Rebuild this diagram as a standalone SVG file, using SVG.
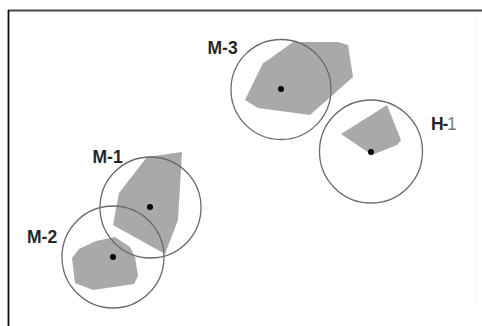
<svg xmlns="http://www.w3.org/2000/svg" width="482" height="326" viewBox="0 0 482 326">
  <style>
    .zone { fill: #a9a9a9; stroke: none; }
    .ring { fill: none; stroke: #6a6a6a; stroke-width: 1.3; }
    .dot { fill: #000; }
    .lbl { font-family: "Liberation Sans", Arial, sans-serif; font-size: 17.5px; font-weight: bold; fill: #262626; }
  </style>
  <rect x="0" y="0" width="482" height="326" fill="#fff"/>
  <g id="frame">
    <line x1="8" y1="10.5" x2="482" y2="10.5" stroke="#4a4a4a" stroke-width="2"/>
    <line x1="8.5" y1="10" x2="8.5" y2="326" stroke="#111" stroke-width="1.8"/>
    <line x1="476.5" y1="14" x2="476.5" y2="306" stroke="#f2f2f2" stroke-width="1"/>
  </g>
  <g id="zones">
    <polygon class="zone" points="245,100 263,63 268,60 293,42 338,42 348,45 353,77 310,115 258,108"/>
    <polygon class="zone" points="341,134 387,105 401,140 397,145 372,155"/>
    <polygon class="zone" points="113,225 119,193 147,157 182,152 178,220 165,254"/>
    <polygon class="zone" points="72,258 79,249 96,241 115,237 130,247 135,257 138,276 134,284 93,290 75,283"/>
  </g>
  <g id="M-3">
    <circle class="ring" cx="281" cy="89.5" r="50"/>
    <circle class="dot" cx="281" cy="89" r="3"/>
    <text class="lbl" x="207.5" y="53.5">M-3</text>
  </g>
  <g id="H-1">
    <circle class="ring" cx="371" cy="151.5" r="51.5"/>
    <circle class="dot" cx="371" cy="152" r="3"/>
    <text class="lbl" x="431" y="130" letter-spacing="-1.2">H-<tspan fill="#7a7a7a" font-weight="normal">1</tspan></text>
  </g>
  <g id="M-1">
    <circle class="ring" cx="150.5" cy="207.5" r="50.5"/>
    <circle class="dot" cx="150" cy="207" r="3"/>
    <text class="lbl" x="92.5" y="162.5">M-1</text>
  </g>
  <g id="M-2">
    <circle class="ring" cx="113" cy="257" r="51"/>
    <circle class="dot" cx="113" cy="257" r="3"/>
    <text class="lbl" x="27" y="242.5">M-2</text>
  </g>
</svg>
